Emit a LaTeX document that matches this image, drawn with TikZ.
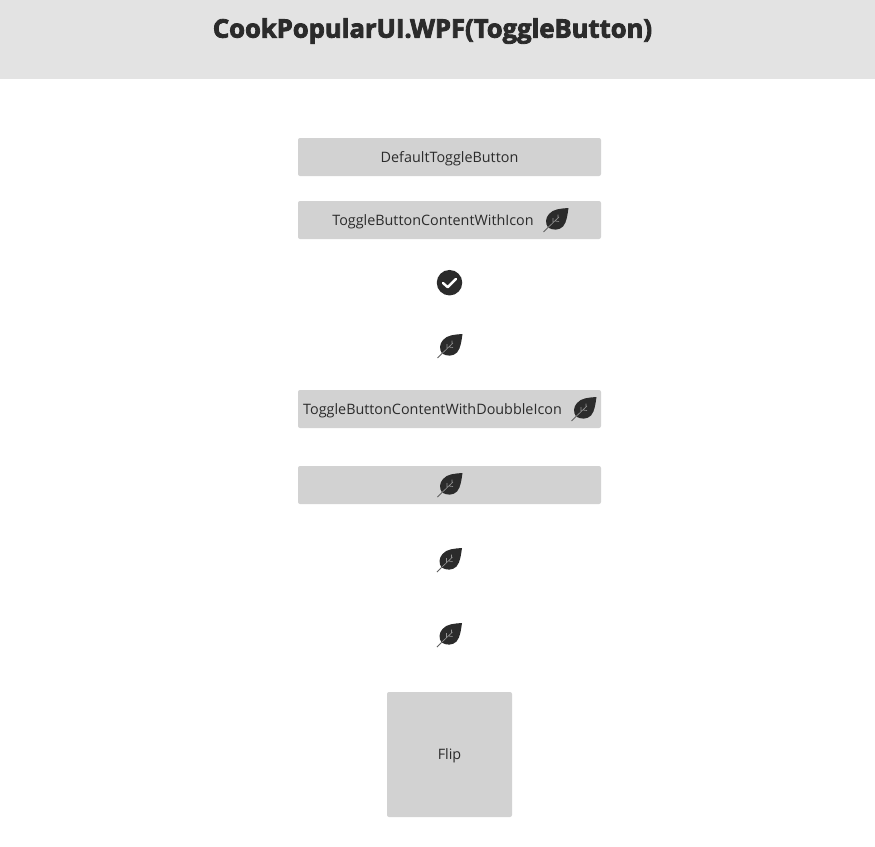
\documentclass[tikz,border=0pt]{standalone}
\usepackage{fontspec}
\setmainfont{Open Sans}
\newfontfamily\titlefont[FakeBold=3.2]{Open Sans Bold}
\definecolor{ink}{HTML}{2B2B2B}
\definecolor{btn}{HTML}{D2D2D2}
\definecolor{head}{HTML}{E3E3E3}
\tikzset{
  x=1pt,y=-1pt,
  button/.style={fill=btn,rounded corners=2pt,draw=none,inner sep=0pt,outer sep=0pt,text=ink,font=\fontsize{14.35}{17}\selectfont,text height=13pt,text depth=3pt,minimum height=38pt,minimum width=303pt,anchor=center},
  square/.style={button,minimum width=125pt,minimum height=125pt},
  label/.style={inner sep=0pt,text=ink,font=\fontsize{14.35}{17}\selectfont,text height=13pt,text depth=3pt,anchor=center},
  leaf/.pic={
    \fill[ink] (12.5,-12) .. controls (5,-11.5) and (-3,-11) .. (-7,-6)
      .. controls (-10.5,-2) and (-11,3) .. (-8,7.5)
      .. controls (-3,10.5) and (3,10.5) .. (7,6.5)
      .. controls (11,2) and (11.5,-6) .. (12.5,-12) -- cycle;
    \draw[ink!75!white,line width=.9pt] (-12.5,12) -- (-7.5,7);
    \draw[gray!85!white,line width=.6pt] (-8,7.5) -- (3,-3) (-3,2.5) -- (-3,-2) (-1.5,1) -- (3,1.5) (2,-2) -- (2,-5.5);
  }
}
\begin{document}
\begin{tikzpicture}
\useasboundingbox (0,0) rectangle (875,846);
\fill[white] (0,0) rectangle (875,846);
\fill[head] (0,0) rectangle (875,79);
\node[inner sep=0pt,text=ink,font=\titlefont\fontsize{25.6}{30}\selectfont] (title) at (432.5,31) {CookPopularUI.WPF(ToggleButton)};
\node[button] (b1) at (449.5,157) {DefaultToggleButton};
\node[button] (b2) at (449.5,220) {};
\node[label] (b2t) at (433,220) {ToggleButtonContentWithIcon};
\pic at (556,220) {leaf};
\node[circle,fill=ink,minimum size=25.5pt,inner sep=0pt] (chk) at (449.5,282.7) {};
\draw[white,line width=2.4pt,line cap=round,line join=round] ([shift={(-6.5,0.3)}]chk.center) -- ([shift={(-1.8,4.5)}]chk.center) -- ([shift={(6.5,-3.8)}]chk.center);
\pic at (450,346) {leaf};
\node[button] (b3) at (449.5,409) {};
\node[label] (b3t) at (432.5,409) {ToggleButtonContentWithDoubbleIcon};
\pic at (584,409) {leaf};
\node[button] (b4) at (449.5,485) {};
\pic at (450,485) {leaf};
\pic at (449.5,560) {leaf};
\pic at (449.5,635) {leaf};
\node[square] (flip) at (449.5,754.5) {Flip};
\end{tikzpicture}
\end{document}
